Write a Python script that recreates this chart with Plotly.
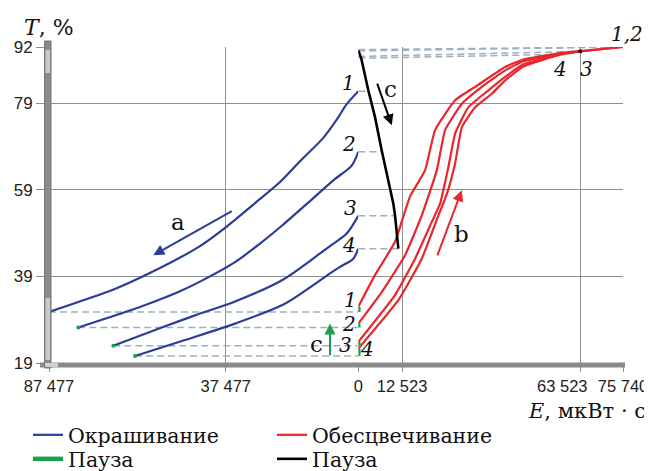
import numpy as np
import plotly.graph_objects as go

# ---------------- data ----------------
# Окрашивание (colouring): E grows to the left of 0 (left, reversed axis)
color_E1 = [87477, 79190, 69740, 59390, 44770, 37220, 29690, 22140, 16490, 9900, 6110, 3280, 0]
color_T1 = [30.8, 33.1, 35.8, 39.6, 46.0, 50.5, 55.6, 60.8, 65.6, 71.0, 75.2, 78.8, 81.8]
color_E2 = [79190, 65050, 58900, 50900, 44770, 34870, 27800, 21210, 13660, 7070, 1870, 0]
color_T2 = [27.2, 31.0, 32.8, 35.4, 37.8, 42.3, 46.6, 51.0, 56.4, 61.2, 64.6, 67.8]
color_E3 = [69290, 55600, 46180, 34870, 21210, 10830, 8000, 3280, 0]
color_T3 = [23.0, 27.2, 30.0, 33.2, 38.3, 44.3, 46.0, 48.9, 53.0]
color_E4 = [63150, 49010, 34870, 21210, 10830, 8000, 5175, 1500, 0]
color_T4 = [20.6, 24.3, 28.1, 32.5, 38.1, 39.7, 41.2, 43.0, 45.4]

# Обесцвечивание (bleaching): E grows to the right of 0
bleach_E1 = [0, 4780, 10510, 14810, 19100, 21970, 27700, 33430, 42020, 47180, 56900, 62650, 75740]
bleach_T1 = [32.0, 39.3, 47.0, 57.5, 63.5, 72.8, 79.7, 82.8, 87.4, 89.1, 90.5, 91.0, 92.0]
bleach_E2 = [0, 6700, 13380, 18160, 22460, 24840, 29620, 35350, 42020, 47180, 56900, 62650, 75740]
bleach_T2 = [28.1, 35.4, 43.9, 53.1, 63.5, 72.8, 78.9, 82.8, 86.6, 88.7, 90.3, 90.9, 92.0]
bleach_E3 = [0, 10510, 16240, 21030, 23400, 25780, 27700, 31510, 37240, 42020, 47180, 56900, 63523]
bleach_T3 = [23.9, 34.7, 43.1, 51.6, 55.8, 64.3, 72.0, 78.1, 82.0, 85.1, 88.0, 90.1, 91.0]
bleach_E4 = [0, 11460, 18160, 22920, 25320, 27700, 29620, 33430, 38210, 42020, 47180, 57800]
bleach_T4 = [22.3, 33.5, 43.1, 53.1, 58.0, 65.1, 73.5, 78.1, 81.2, 84.3, 87.5, 90.3]

# Пауза after bleaching (black)
pause_E = [0, 800, 2860, 4780, 6700, 8130, 10030, 10510, 11460]
pause_T = [91.2, 89.5, 82.0, 75.8, 68.1, 62.8, 55.8, 53.1, 45.4]
pause_top_T = [91.4, 91.1, 89.8, 89.4]

# axis ticks
left_tickvals = [87477, 37477]
left_ticktext = ["87 477", "37 477"]
right_tickvals = [0, 12523, 63523, 75740]
right_ticktext = ["0", "12 523", "63 523", "75 740"]
shifted_tick = 63523          # its label is drawn shifted left, as in the reference
y_tickvals = [19, 39, 59, 79, 92]

color_E = [color_E1, color_E2, color_E3, color_E4]
color_T = [color_T1, color_T2, color_T3, color_T4]
bleach_E = [bleach_E1, bleach_E2, bleach_E3, bleach_E4]
bleach_T = [bleach_T1, bleach_T2, bleach_T3, bleach_T4]

BLUE = "#2b3d98"
RED = "#e8262c"
GREEN = "#16a34d"
DASH = "#9dafc0"
GRID = "#8f8f8f"
SERIF = "DejaVu Serif, Liberation Serif, serif"
SANS = "Liberation Sans Narrow, Arial Narrow, Liberation Sans, Arial, sans-serif"

# plot area in page pixels: x 49..623, y 47..363 ; split at the 0 line
def px(p):
    return (p - 49) / 574
def py(p):
    return (363 - p) / 316
SPLIT = px(358.3)

fig = go.Figure()

# ---- dashed guide lines ----
lx, ly = [], []
for E, T in zip(color_E, color_T):
    lx += [E[0], 0, None]
    ly += [T[0], T[0], None]
fig.add_trace(go.Scatter(x=lx, y=ly, xaxis="x", yaxis="y", mode="lines", showlegend=False,
                         hoverinfo="skip", line=dict(color=DASH, width=1.5, dash="7px,4px")))
rx, ry = [], []
bx = np.array(pause_E[::-1], dtype=float)
by = np.array(pause_T[::-1], dtype=float)
for T in color_T:
    e_hit = float(np.interp(T[-1], by, bx))
    rx += [0, e_hit, None]
    ry += [T[-1], T[-1], None]
for i in range(4):
    rx += [0, bleach_E[i][-1], None]
    ry += [pause_top_T[i], bleach_T[i][-1], None]
fig.add_trace(go.Scatter(x=rx, y=ry, xaxis="x2", yaxis="y", mode="lines", showlegend=False,
                         hoverinfo="skip", line=dict(color=DASH, width=1.5, dash="7px,4px")))

# ---- colouring curves ----
for i in range(4):
    fig.add_trace(go.Scatter(
        x=color_E[i], y=color_T[i], xaxis="x", yaxis="y", mode="lines",
        name="Окрашивание", legendgroup="color", showlegend=(i == 0), legend="legend",
        line=dict(color=BLUE, width=2.2, shape="spline", smoothing=0.8)))

# ---- bleaching curves ----
for i in range(4):
    fig.add_trace(go.Scatter(
        x=bleach_E[i], y=bleach_T[i], xaxis="x2", yaxis="y", mode="lines",
        name="Обесцвечивание", legendgroup="bleach", showlegend=(i == 0), legend="legend2",
        line=dict(color=RED, width=2.2, shape="spline", smoothing=0.4)))

# ---- pause after colouring (green) ----
gx, gy = [], []
for i in range(4):
    gx += [0, 0, None]
    gy += [color_T[i][0], bleach_T[i][0], None]
fig.add_trace(go.Scatter(x=gx, y=gy, xaxis="x2", yaxis="y", mode="lines", name="Пауза",
                         legendgroup="p1", legend="legend3", line=dict(color=GREEN, width=4.5)))
fig.add_trace(go.Scatter(x=[E[0] for E in color_E], y=[T[0] for T in color_T],
                         xaxis="x", yaxis="y", mode="markers", showlegend=False,
                         hoverinfo="skip", marker=dict(color=GREEN, size=4)))

# ---- pause after bleaching (black) ----
fig.add_trace(go.Scatter(x=pause_E, y=pause_T, xaxis="x2", yaxis="y", mode="lines",
                         name="Пауза", legendgroup="p2", legend="legend4",
                         line=dict(color="black", width=2.6)))
fig.add_trace(go.Scatter(x=[bleach_E3[-1]], y=[bleach_T3[-1]], xaxis="x3", yaxis="y",
                         mode="markers", showlegend=False, hoverinfo="skip",
                         marker=dict(color="black", size=4)))

# ---- annotations ----
ann = []
def lab(xref, x, y, t, size=20, italic=True):
    ann.append(dict(x=x, y=y, xref=xref, yref="y", text=(f"<i>{t}</i>" if italic else t),
                    showarrow=False, font=dict(family=SERIF, size=size, color="#111")))

lab("x", 2828, 83.6, "1"); lab("x", 2545, 69.7, "2"); lab("x", 2347, 54.7, "3"); lab("x", 2545, 46.2, "4")
lab("x", 2347, 33.5, "1"); lab("x", 2545, 28.1, "2"); lab("x", 3761, 23.1, "3"); lab("x2", 2406, 22.3, "4")
lab("x2", 57577, 87.0, "4"); lab("x2", 65426, 87.0, "3")
lab("x", 50908, 51.6, "a", size=23, italic=False)
lab("x2", 9081, 82.4, "c", size=23, italic=False)
lab("x2", 29619, 48.9, "b", size=23, italic=False)
lab("x", 11765, 23.5, "c", size=23, italic=False)
ann.append(dict(x=px(627), y=py(34), xref="paper", yref="paper", xanchor="center", yanchor="middle",
                text="<i>1,2</i>", showarrow=False, font=dict(family=SERIF, size=20, color="#111")))

def arrow(xref, x0, y0, x1, y1, color):
    ann.append(dict(x=x1, y=y1, ax=x0, ay=y0, xref=xref, yref="y", axref=xref, ayref="y",
                    text="", showarrow=True, arrowhead=2, arrowsize=1.1, arrowwidth=2,
                    arrowcolor=color))

arrow("x", 35353, 54.3, 57978, 43.9, BLUE)
arrow("x2", 5271, 83.9, 9568, 73.9, "black")
arrow("x2", 22458, 43.5, 29619, 58.9, RED)
arrow("x", 8004, 20.4, 8004, 28.1, GREEN)

ann.append(dict(x=px(22), y=py(27), xref="paper", yref="paper", xanchor="left", yanchor="middle",
                text="<i>T</i>, %", showarrow=False, font=dict(family=SERIF, size=22, color="#111")))
ann.append(dict(x=px(648), y=py(410.5), xref="paper", yref="paper", xanchor="right", yanchor="middle",
                text="<i>E</i>, мкВт · с", showarrow=False, font=dict(family=SERIF, size=21, color="#111")))

# ---- scrollbar-like bars (decoration of the reference) ----
shapes = [
    dict(type="rect", xref="paper", yref="paper", x0=px(40), x1=px(625), y0=py(367.5), y1=py(362.5),
         fillcolor="#8a8a8a", line=dict(width=0), layer="above"),
    dict(type="rect", xref="paper", yref="paper", x0=px(44.5), x1=px(51), y0=py(368), y1=py(41),
         fillcolor="#8a8a8a", line=dict(color="#777", width=1), layer="above"),
    dict(type="rect", xref="paper", yref="paper", x0=px(45.5), x1=px(50), y0=py(73), y1=py(50),
         fillcolor="#c9c9c9", line=dict(width=0), layer="above"),
    dict(type="rect", xref="paper", yref="paper", x0=px(45.5), x1=px(50), y0=py(360), y1=py(298),
         fillcolor="#c9c9c9", line=dict(width=0), layer="above"),
    dict(type="rect", xref="paper", yref="paper", x0=px(45), x1=px(58), y0=py(367), y1=py(363),
         fillcolor="#d0d0d0", line=dict(width=0), layer="above"),
]

tickfont = dict(family=SANS, size=16.5, color="#222")
axis_common = dict(showgrid=True, gridcolor=GRID, gridwidth=1, zeroline=False, showline=False,
                   ticks="outside", ticklen=8, tickcolor=GRID, tickangle=0, automargin=False,
                   tickfont=tickfont, tickmode="array")

legend_common = dict(orientation="h", xanchor="left", yanchor="middle", traceorder="normal",
                     font=dict(family=SERIF, size=20.5, color="#111"), bgcolor="rgba(0,0,0,0)")

fig.update_layout(
    width=652, height=471,
    # the page adds an 8 px body margin, so the margins are reduced by 8 px
    margin=dict(l=41, r=37, t=39, b=116, autoexpand=False),
    paper_bgcolor="white", plot_bgcolor="white",
    xaxis=dict(axis_common, domain=[0, SPLIT], range=[87477, 0], anchor="y",
               tickvals=left_tickvals, ticktext=left_ticktext),
    xaxis2=dict(axis_common, domain=[SPLIT, 1], range=[0, 75740], anchor="y",
                tickvals=right_tickvals,
                ticktext=["" if v == shifted_tick else t for v, t in zip(right_tickvals, right_ticktext)]),
    xaxis3=dict(overlaying="x2", range=[0, 75740], anchor="y", side="bottom",
                showgrid=False, zeroline=False, showline=False, ticks="outside", ticklen=8,
                tickcolor="rgba(0,0,0,0)", tickangle=0, tickmode="array",
                tickvals=[shifted_tick],
                ticktext=[right_ticktext[right_tickvals.index(shifted_tick)]],
                ticklabelshift=-18, tickfont=tickfont),
    yaxis=dict(range=[19, 92], tickmode="array", tickvals=y_tickvals, automargin=False, anchor="x",
               showgrid=True, gridcolor=GRID, gridwidth=1, zeroline=False, showline=False,
               ticks="outside", ticklen=12, tickcolor=GRID,
               tickfont=dict(family=SANS, size=17, color="#222")),
    legend=dict(legend_common, x=px(28), y=py(435)),
    legend2=dict(legend_common, x=px(272), y=py(435)),
    legend3=dict(legend_common, x=px(28), y=py(459)),
    legend4=dict(legend_common, x=px(272), y=py(459)),
    annotations=ann, shapes=shapes, showlegend=True,
)

fig.write_html("out.html")
